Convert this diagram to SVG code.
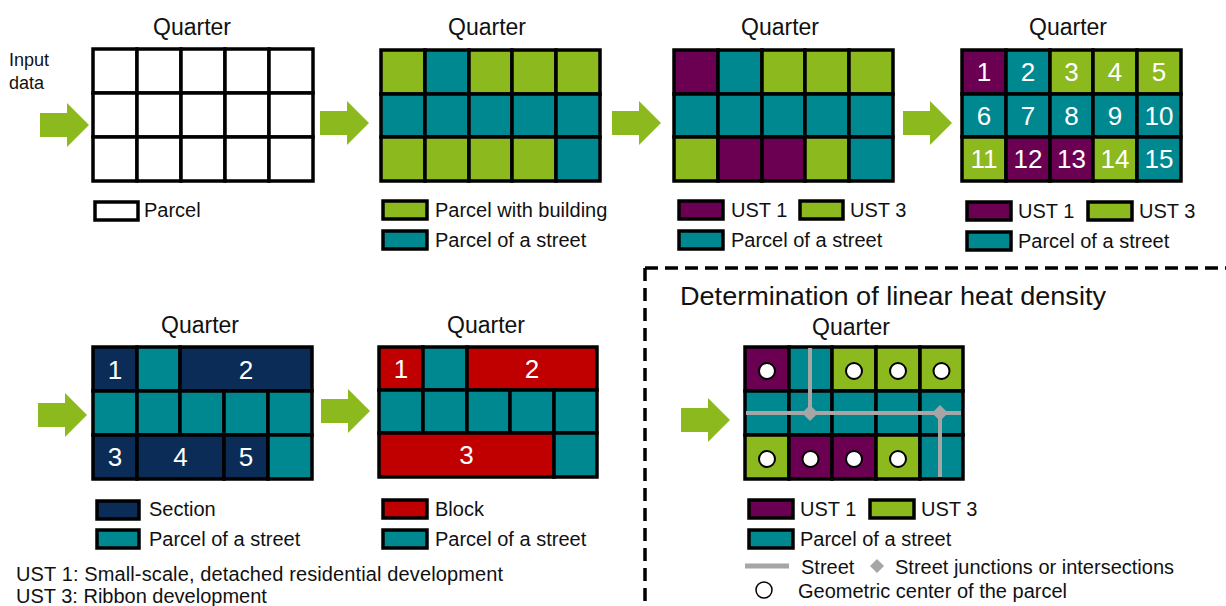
<svg xmlns="http://www.w3.org/2000/svg" xmlns:xlink="http://www.w3.org/1999/xlink" width="1226" height="606" viewBox="0 0 1226 606">
<style>
text{font-family:"Liberation Sans",Arial,sans-serif;fill:#111}
.q{font-size:23px;text-anchor:middle}
.lg{font-size:20px}
.num{font-size:26px;fill:#fff;text-anchor:middle}
.c{stroke:#000;stroke-width:3.5}
.w{fill:#fff}
.g{fill:#8cb91e}
.t{fill:#008891}
.p{fill:#6b0052}
.n{fill:#0b2c56}
.r{fill:#c00000}
.arrow{fill:#8cb91e}
.st{stroke:#a6a6a6;stroke-width:4;fill:none}
.jn{fill:#a6a6a6}
.ctr{fill:#fff;stroke:#000;stroke-width:2}
</style>
<defs>
<path id="arr" d="M0,-12 H27 V-22 L49,0 L27,22 V12 H0 Z"/>
</defs>

<g id="connectors">
<use xlink:href="#arr" class="arrow" transform="translate(40,125)"/>
<use xlink:href="#arr" class="arrow" transform="translate(320,123)"/>
<use xlink:href="#arr" class="arrow" transform="translate(612,123)"/>
<use xlink:href="#arr" class="arrow" transform="translate(903,123)"/>
<use xlink:href="#arr" class="arrow" transform="translate(38,415)"/>
<use xlink:href="#arr" class="arrow" transform="translate(321,411)"/>
<use xlink:href="#arr" class="arrow" transform="translate(681,420)"/>
</g>

<g id="input-label">
<text x="9" y="66" style="font-size:18px">Input</text>
<text x="9" y="89" style="font-size:18px">data</text>
</g>

<!-- Grid 1 -->
<g id="quarter1">
<text class="q" x="192" y="35">Quarter</text>
<g class="c w">
<rect x="93" y="49" width="44" height="44"/><rect x="137" y="49" width="44" height="44"/><rect x="181" y="49" width="44" height="44"/><rect x="225" y="49" width="44" height="44"/><rect x="269" y="49" width="44" height="44"/>
<rect x="93" y="93" width="44" height="44"/><rect x="137" y="93" width="44" height="44"/><rect x="181" y="93" width="44" height="44"/><rect x="225" y="93" width="44" height="44"/><rect x="269" y="93" width="44" height="44"/>
<rect x="93" y="137" width="44" height="44"/><rect x="137" y="137" width="44" height="44"/><rect x="181" y="137" width="44" height="44"/><rect x="225" y="137" width="44" height="44"/><rect x="269" y="137" width="44" height="44"/>
</g>
<rect class="c w" x="95" y="202" width="43" height="18"/>
<text class="lg" x="144" y="217">Parcel</text>
</g>

<!-- Grid 2 -->
<g id="quarter2">
<text class="q" x="487" y="35">Quarter</text>
<g class="c">
<rect class="g" x="381" y="50" width="44" height="44"/><rect class="t" x="425" y="50" width="44" height="44"/><rect class="g" x="469" y="50" width="43" height="44"/><rect class="g" x="512" y="50" width="44" height="44"/><rect class="g" x="556" y="50" width="44" height="44"/>
<rect class="t" x="381" y="94" width="44" height="43"/><rect class="t" x="425" y="94" width="44" height="43"/><rect class="t" x="469" y="94" width="43" height="43"/><rect class="t" x="512" y="94" width="44" height="43"/><rect class="t" x="556" y="94" width="44" height="43"/>
<rect class="g" x="381" y="137" width="44" height="44"/><rect class="g" x="425" y="137" width="44" height="44"/><rect class="g" x="469" y="137" width="43" height="44"/><rect class="g" x="512" y="137" width="44" height="44"/><rect class="t" x="556" y="137" width="44" height="44"/>
</g>
<rect class="c g" x="383" y="201" width="44" height="18"/>
<text class="lg" x="435" y="217">Parcel with building</text>
<rect class="c t" x="383" y="231" width="44" height="18"/>
<text class="lg" x="435" y="247">Parcel of a street</text>
</g>

<!-- Grid 3 -->
<g id="quarter3">
<text class="q" x="780" y="35">Quarter</text>
<g class="c">
<rect class="p" x="674" y="50" width="44" height="44"/><rect class="t" x="718" y="50" width="44" height="44"/><rect class="g" x="762" y="50" width="43" height="44"/><rect class="g" x="805" y="50" width="44" height="44"/><rect class="g" x="849" y="50" width="44" height="44"/>
<rect class="t" x="674" y="94" width="44" height="43"/><rect class="t" x="718" y="94" width="44" height="43"/><rect class="t" x="762" y="94" width="43" height="43"/><rect class="t" x="805" y="94" width="44" height="43"/><rect class="t" x="849" y="94" width="44" height="43"/>
<rect class="g" x="674" y="137" width="44" height="44"/><rect class="p" x="718" y="137" width="44" height="44"/><rect class="p" x="762" y="137" width="43" height="44"/><rect class="g" x="805" y="137" width="44" height="44"/><rect class="t" x="849" y="137" width="44" height="44"/>
</g>
<rect class="c p" x="679" y="201" width="44" height="18"/>
<text class="lg" x="731" y="217">UST 1</text>
<rect class="c g" x="800" y="201" width="43" height="18"/>
<text class="lg" x="850" y="217">UST 3</text>
<rect class="c t" x="679" y="231" width="44" height="18"/>
<text class="lg" x="731" y="247">Parcel of a street</text>
</g>

<!-- Grid 4 -->
<g id="quarter4">
<text class="q" x="1068" y="35">Quarter</text>
<g class="c">
<rect class="p" x="962" y="50" width="44" height="44"/><rect class="t" x="1006" y="50" width="44" height="44"/><rect class="g" x="1050" y="50" width="43" height="44"/><rect class="g" x="1093" y="50" width="44" height="44"/><rect class="g" x="1137" y="50" width="44" height="44"/>
<rect class="t" x="962" y="94" width="44" height="43"/><rect class="t" x="1006" y="94" width="44" height="43"/><rect class="t" x="1050" y="94" width="43" height="43"/><rect class="t" x="1093" y="94" width="44" height="43"/><rect class="t" x="1137" y="94" width="44" height="43"/>
<rect class="g" x="962" y="137" width="44" height="44"/><rect class="p" x="1006" y="137" width="44" height="44"/><rect class="p" x="1050" y="137" width="43" height="44"/><rect class="g" x="1093" y="137" width="44" height="44"/><rect class="t" x="1137" y="137" width="44" height="44"/>
</g>
<g>
<text class="num" x="984" y="81">1</text><text class="num" x="1028" y="81">2</text><text class="num" x="1071.5" y="81">3</text><text class="num" x="1115" y="81">4</text><text class="num" x="1159" y="81">5</text>
<text class="num" x="984" y="124.5">6</text><text class="num" x="1028" y="124.5">7</text><text class="num" x="1071.5" y="124.5">8</text><text class="num" x="1115" y="124.5">9</text><text class="num" x="1159" y="124.5">10</text>
<text class="num" x="984" y="168">11</text><text class="num" x="1028" y="168">12</text><text class="num" x="1071.5" y="168">13</text><text class="num" x="1115" y="168">14</text><text class="num" x="1159" y="168">15</text>
</g>
<rect class="c p" x="967" y="202" width="44" height="18"/>
<text class="lg" x="1018" y="218">UST 1</text>
<rect class="c g" x="1088" y="202" width="44" height="18"/>
<text class="lg" x="1139" y="218">UST 3</text>
<rect class="c t" x="967" y="232" width="44" height="18"/>
<text class="lg" x="1018" y="248">Parcel of a street</text>
</g>

<!-- Grid 5 -->
<g id="quarter5">
<text class="q" x="200" y="333">Quarter</text>
<g class="c">
<rect class="n" x="93" y="347" width="44" height="44"/><rect class="t" x="137" y="347" width="43" height="44"/><rect class="n" x="180" y="347" width="132" height="44"/>
<rect class="t" x="93" y="391" width="44" height="44"/><rect class="t" x="137" y="391" width="43" height="44"/><rect class="t" x="180" y="391" width="44" height="44"/><rect class="t" x="224" y="391" width="44" height="44"/><rect class="t" x="268" y="391" width="44" height="44"/>
<rect class="n" x="93" y="435" width="44" height="44"/><rect class="n" x="137" y="435" width="87" height="44"/><rect class="n" x="224" y="435" width="44" height="44"/><rect class="t" x="268" y="435" width="44" height="44"/>
</g>
<text class="num" x="115" y="379">1</text><text class="num" x="246" y="379">2</text>
<text class="num" x="115" y="466">3</text><text class="num" x="180.5" y="466">4</text><text class="num" x="246" y="466">5</text>
<rect class="c n" x="97" y="501" width="42" height="18"/>
<text class="lg" x="149" y="516">Section</text>
<rect class="c t" x="97" y="530" width="42" height="18"/>
<text class="lg" x="149" y="546">Parcel of a street</text>
</g>

<!-- Grid 6 -->
<g id="quarter6">
<text class="q" x="486" y="333">Quarter</text>
<g class="c">
<rect class="r" x="379" y="347" width="44" height="43"/><rect class="t" x="423" y="347" width="44" height="43"/><rect class="r" x="467" y="347" width="130" height="43"/>
<rect class="t" x="379" y="390" width="44" height="43"/><rect class="t" x="423" y="390" width="44" height="43"/><rect class="t" x="467" y="390" width="43" height="43"/><rect class="t" x="510" y="390" width="44" height="43"/><rect class="t" x="554" y="390" width="43" height="43"/>
<rect class="r" x="379" y="433" width="175" height="44"/><rect class="t" x="554" y="433" width="43" height="44"/>
</g>
<text class="num" x="401" y="378">1</text><text class="num" x="532" y="378">2</text>
<text class="num" x="466.5" y="464">3</text>
<rect class="c r" x="383" y="500" width="44" height="18"/>
<text class="lg" x="435" y="516">Block</text>
<rect class="c t" x="383" y="530" width="44" height="18"/>
<text class="lg" x="435" y="546">Parcel of a street</text>
</g>

<!-- UST definitions -->
<g id="ust-notes">
<text class="lg" x="16" y="581" textLength="487">UST 1: Small-scale, detached residential development</text>
<text class="lg" x="16" y="603">UST 3: Ribbon development</text>
</g>

<!-- Dashed frame -->
<g id="frame">
<path d="M645,268 H1226 M645,268 V606" fill="none" stroke="#000" stroke-width="3.5" stroke-dasharray="13 7"/>
</g>

<!-- Grid 7 -->
<g id="quarter7">
<text x="680" y="305" style="font-size:25px" textLength="426" lengthAdjust="spacingAndGlyphs">Determination of linear heat density</text>
<text class="q" x="851" y="335">Quarter</text>
<g class="c">
<rect class="p" x="745" y="347" width="44" height="44"/><rect class="t" x="789" y="347" width="43" height="44"/><rect class="g" x="832" y="347" width="44" height="44"/><rect class="g" x="876" y="347" width="44" height="44"/><rect class="g" x="920" y="347" width="43" height="44"/>
<rect class="t" x="745" y="391" width="44" height="44"/><rect class="t" x="789" y="391" width="43" height="44"/><rect class="t" x="832" y="391" width="44" height="44"/><rect class="t" x="876" y="391" width="44" height="44"/><rect class="t" x="920" y="391" width="43" height="44"/>
<rect class="g" x="745" y="435" width="44" height="44"/><rect class="p" x="789" y="435" width="43" height="44"/><rect class="p" x="832" y="435" width="44" height="44"/><rect class="g" x="876" y="435" width="44" height="44"/><rect class="t" x="920" y="435" width="43" height="44"/>
</g>
<path class="st" d="M810,348 V413 M746,413 H961 M940,413 V477"/>
<path class="jn" d="M810,405 L818,413 L810,421 L802,413 Z"/>
<path class="jn" d="M940,405 L948,413 L940,421 L932,413 Z"/>
<g>
<circle class="ctr" cx="767" cy="371" r="8"/><circle class="ctr" cx="854" cy="371" r="8"/><circle class="ctr" cx="898" cy="371" r="8"/><circle class="ctr" cx="941.5" cy="371" r="8"/>
<circle class="ctr" cx="767" cy="459" r="8"/><circle class="ctr" cx="810.5" cy="459" r="8"/><circle class="ctr" cx="854" cy="459" r="8"/><circle class="ctr" cx="898" cy="459" r="8"/>
</g>
<rect class="c p" x="749" y="500" width="44" height="18"/>
<text class="lg" x="800" y="516">UST 1</text>
<rect class="c g" x="870" y="500" width="44" height="18"/>
<text class="lg" x="921" y="516">UST 3</text>
<rect class="c t" x="749" y="530" width="44" height="18"/>
<text class="lg" x="800" y="546">Parcel of a street</text>
<line class="st" x1="745" y1="566" x2="789" y2="566" style="stroke-width:5"/>
<text class="lg" x="801" y="574">Street</text>
<path class="jn" d="M877,559 L884,566 L877,573 L870,566 Z"/>
<text class="lg" x="895" y="574">Street junctions or intersections</text>
<circle cx="764" cy="590" r="8" fill="#fff" stroke="#000" stroke-width="1.5"/>
<text class="lg" x="798" y="598">Geometric center of the parcel</text>
</g>
</svg>
